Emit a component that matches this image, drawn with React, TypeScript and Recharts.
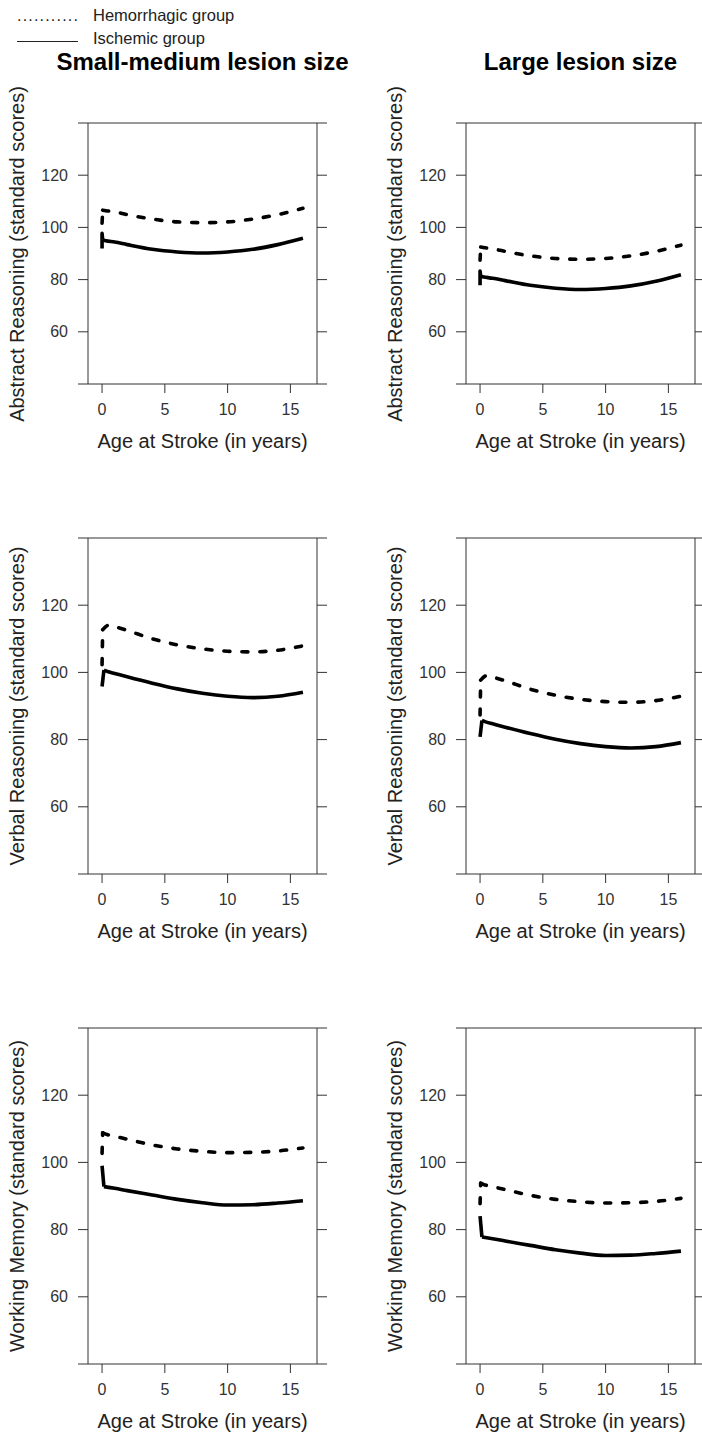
import React from "react";
import { LineChart, Line, XAxis, YAxis } from "recharts";

type Pt = [number, number];

const font = "'Liberation Sans', Arial, Helvetica, sans-serif";

const ageTicks = [0, 5, 10, 15];
const scoreTicks = [40, 60, 80, 100, 120, 140];
const scoreLabels = [60, 80, 100, 120];

const columnTitles = ["Small-medium lesion size", "Large lesion size"];
const rowMeasures = ["Abstract Reasoning", "Verbal Reasoning", "Working Memory"];
const groupNames = ["Hemorrhagic group", "Ischemic group"];

// [age at stroke, standard score].
// *Start = the short jump at age 0, the rest is the fitted curve.
const abstractSmallHemStart: Pt[] = [[0, 101.6], [0.05, 106.6]];
const abstractSmallHem: Pt[] = [[0.05, 106.6], [0.3, 106.4], [1, 106.0], [2, 104.9], [4, 103.2], [6, 102.1], [8, 101.8], [10, 102.1], [12, 103.2], [14, 104.9], [16, 107.3]];
const abstractSmallIschStart: Pt[] = [[0, 91.9], [0, 97.7], [0.05, 95.2]];
const abstractSmallIsch: Pt[] = [[0.05, 95.2], [0.3, 94.9], [1, 94.4], [2, 93.4], [4, 91.6], [6, 90.6], [8, 90.2], [10, 90.6], [12, 91.6], [14, 93.4], [16, 95.8]];
const abstractLargeHemStart: Pt[] = [[0, 87.4], [0.05, 92.5]];
const abstractLargeHem: Pt[] = [[0.05, 92.5], [0.4, 92.2], [1, 91.8], [2, 90.8], [4, 89.1], [6, 88.1], [8, 87.8], [10, 88.1], [12, 89.1], [14, 90.8], [16, 93.2]];
const abstractLargeIschStart: Pt[] = [[0, 77.8], [0, 83.3], [0.05, 81.2]];
const abstractLargeIsch: Pt[] = [[0.05, 81.2], [0.3, 81.0], [1, 80.5], [2, 79.6], [4, 77.8], [6, 76.7], [8, 76.2], [10, 76.6], [12, 77.6], [14, 79.4], [16, 81.9]];
const verbalSmallHemStart: Pt[] = [[0, 102.3], [0.05, 112.7]];
const verbalSmallHem: Pt[] = [[0.05, 112.7], [0.5, 114.0], [1, 113.6], [2, 112.5], [4, 110.0], [6, 108.2], [8, 107.0], [10, 106.3], [12, 106.1], [14, 106.6], [16, 107.9]];
const verbalSmallIschStart: Pt[] = [[0, 95.8], [0.15, 100.7]];
const verbalSmallIsch: Pt[] = [[0.15, 100.7], [0.5, 100.2], [1, 99.7], [2, 98.7], [4, 96.8], [6, 95.1], [8, 93.8], [10, 92.9], [12, 92.5], [14, 92.9], [16, 94.1]];
const verbalLargeHemStart: Pt[] = [[0, 87.3], [0.05, 97.7]];
const verbalLargeHem: Pt[] = [[0.05, 97.7], [0.5, 99.0], [1, 98.6], [2, 97.5], [4, 95.0], [6, 93.2], [8, 92.0], [10, 91.3], [12, 91.1], [14, 91.6], [16, 92.9]];
const verbalLargeIschStart: Pt[] = [[0, 80.8], [0.15, 85.7]];
const verbalLargeIsch: Pt[] = [[0.15, 85.7], [0.5, 85.2], [1, 84.7], [2, 83.7], [4, 81.8], [6, 80.1], [8, 78.8], [10, 77.9], [12, 77.5], [14, 77.9], [16, 79.1]];
const memorySmallHemStart: Pt[] = [[0, 102.7], [0.05, 108.8]];
const memorySmallHem: Pt[] = [[0.05, 108.8], [0.3, 108.4], [1, 107.8], [2, 106.9], [4, 105.2], [6, 104.0], [8, 103.3], [10, 102.9], [12, 103.0], [14, 103.4], [16, 104.3]];
const memorySmallIschStart: Pt[] = [[0, 99.0], [0.15, 92.8]];
const memorySmallIsch: Pt[] = [[0.15, 92.8], [1, 92.3], [2, 91.6], [4, 90.3], [6, 89.0], [8, 88.0], [10, 87.3], [12, 87.4], [14, 87.9], [16, 88.6]];
const memoryLargeHemStart: Pt[] = [[0, 87.7], [0.05, 93.8]];
const memoryLargeHem: Pt[] = [[0.05, 93.8], [0.3, 93.4], [1, 92.8], [2, 91.9], [4, 90.2], [6, 89.0], [8, 88.3], [10, 87.9], [12, 88.0], [14, 88.4], [16, 89.3]];
const memoryLargeIschStart: Pt[] = [[0, 84.0], [0.15, 77.8]];
const memoryLargeIsch: Pt[] = [[0.15, 77.8], [1, 77.3], [2, 76.6], [4, 75.3], [6, 74.0], [8, 73.0], [10, 72.3], [12, 72.4], [14, 72.9], [16, 73.6]];

const panels = [
  { row: 0, col: 0, hemStart: abstractSmallHemStart, hem: abstractSmallHem, ischStart: abstractSmallIschStart, isch: abstractSmallIsch },
  { row: 0, col: 1, hemStart: abstractLargeHemStart, hem: abstractLargeHem, ischStart: abstractLargeIschStart, isch: abstractLargeIsch },
  { row: 1, col: 0, hemStart: verbalSmallHemStart, hem: verbalSmallHem, ischStart: verbalSmallIschStart, isch: verbalSmallIsch },
  { row: 1, col: 1, hemStart: verbalLargeHemStart, hem: verbalLargeHem, ischStart: verbalLargeIschStart, isch: verbalLargeIsch },
  { row: 2, col: 0, hemStart: memorySmallHemStart, hem: memorySmallHem, ischStart: memorySmallIschStart, isch: memorySmallIsch },
  { row: 2, col: 1, hemStart: memoryLargeHemStart, hem: memoryLargeHem, ischStart: memoryLargeIschStart, isch: memoryLargeIsch },
];

// plot box geometry on the page
const boxLeft = [88, 466];
const boxTop = [123, 538, 1028];
const boxHeight = [261, 336, 336];
const boxWidth = 229;

const axisColor = "#333";
const toRows = (pts: Pt[]) => pts.map(([age, score]) => ({ age, score }));

type PanelProps = {
  row: number;
  col: number;
  hemStart: Pt[];
  hem: Pt[];
  ischStart: Pt[];
  isch: Pt[];
};

function Panel({ row, col, hemStart, hem, ischStart, isch }: PanelProps) {
  const left = boxLeft[col] - 88;
  const top = boxTop[row] - 23;
  const height = 23 + boxHeight[row] + 70;
  const tickStyle = { fontSize: 16, fill: "#333", fontFamily: font };
  const dashed = { stroke: "#000", strokeWidth: 3.6, strokeDasharray: "6 12", strokeLinecap: "round" as const };
  const solid = { stroke: "#000", strokeWidth: 3.6, strokeLinejoin: "round" as const };
  return (
    <div style={{ position: "absolute", left, top }}>
      <LineChart width={350} height={height} margin={{ top: 13, right: 23, bottom: 0, left: 0 }}>
        <XAxis
          dataKey="age"
          type="number"
          domain={[-1.12, 17.12]}
          ticks={ageTicks}
          interval={0}
          allowDataOverflow
          height={70}
          tickSize={9}
          tickMargin={11}
          tick={tickStyle}
          stroke={axisColor}
          label={{ value: "Age at Stroke (in years)", position: "insideBottom", offset: 6, fontSize: 20, fill: "#222", fontFamily: font }}
        />
        <XAxis
          xAxisId="top"
          orientation="top"
          type="number"
          domain={[-1.12, 17.12]}
          ticks={ageTicks}
          interval={0}
          allowDataOverflow
          height={10}
          tickSize={10}
          tickFormatter={() => ""}
          stroke={axisColor}
        />
        <YAxis
          type="number"
          domain={[40, 140]}
          ticks={scoreTicks}
          interval={0}
          allowDataOverflow
          width={88}
          tickSize={10}
          tickMargin={10}
          tick={tickStyle}
          tickFormatter={(v: number) => (scoreLabels.includes(v) ? String(v) : "")}
          stroke={axisColor}
        />
        <YAxis
          yAxisId="right"
          orientation="right"
          type="number"
          domain={[40, 140]}
          ticks={scoreTicks}
          interval={0}
          allowDataOverflow
          width={10}
          tickSize={10}
          tickFormatter={() => ""}
          stroke={axisColor}
        />
        <Line data={toRows(hemStart)} dataKey="score" type="linear" {...dashed} dot={false} isAnimationActive={false} />
        <Line data={toRows(hem)} dataKey="score" type="monotone" {...dashed} dot={false} isAnimationActive={false} />
        <Line data={toRows(ischStart)} dataKey="score" type="linear" {...solid} dot={false} isAnimationActive={false} />
        <Line data={toRows(isch)} dataKey="score" type="monotone" {...solid} dot={false} isAnimationActive={false} />
      </LineChart>
      <div
        style={{
          position: "absolute",
          left: 17,
          top: 23 + boxHeight[row] / 2,
          transform: "translate(-50%, -50%) rotate(-90deg)",
          whiteSpace: "nowrap",
          fontFamily: font,
          fontSize: 20,
          color: "#222",
        }}
      >
        {rowMeasures[row]} (standard scores)
      </div>
    </div>
  );
}

export default function App() {
  return (
    <div style={{ position: "absolute", left: 0, top: 0, width: 702, height: 1435, overflow: "hidden", background: "#fff" }}>
      <svg width={702} height={100} style={{ position: "absolute", left: 0, top: 0 }}>
        <text x={17} y={21} fontFamily={font} fontSize={16} fill="#222" letterSpacing={1.2}>
          ...........
        </text>
        <text x={93} y={21} fontFamily={font} fontSize={16.5} fill="#222">
          {groupNames[0]}
        </text>
        <line x1={17} x2={78} y1={41.5} y2={41.5} stroke="#222" strokeWidth={1} />
        <text x={93} y={43.5} fontFamily={font} fontSize={16.5} fill="#222">
          {groupNames[1]}
        </text>
        {columnTitles.map((t, i) => (
          <text key={t} x={boxLeft[i] + boxWidth / 2} y={70} textAnchor="middle" fontFamily={font} fontSize={24} fontWeight="bold" fill="#000">
            {t}
          </text>
        ))}
      </svg>
      {panels.map((p) => (
        <Panel key={`${p.row}-${p.col}`} {...p} />
      ))}
    </div>
  );
}
